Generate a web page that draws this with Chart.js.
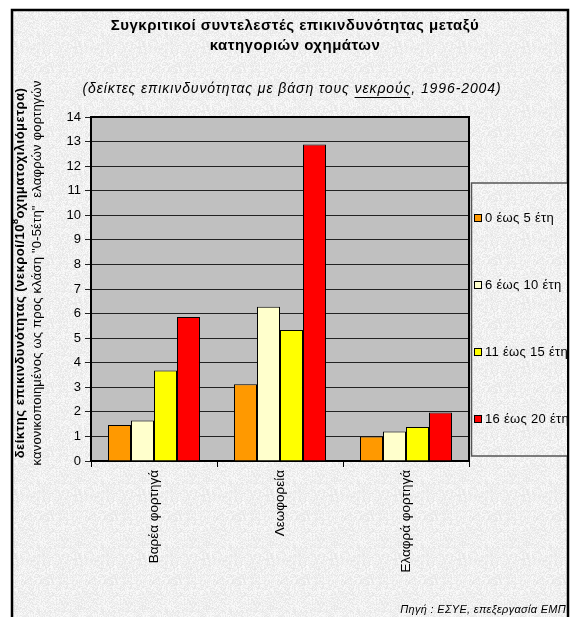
<!DOCTYPE html>
<html>
<head>
<meta charset="utf-8">
<script src="https://cdn.jsdelivr.net/npm/chart.js@4.4.0/dist/chart.umd.min.js"></script>
<style>
  html, body { margin: 0; padding: 0; background: #fff; }
  #chart { display: block; }
</style>
</head>
<body>
<canvas id="chart" width="572" height="617"></canvas>
<script>
const categories = ['Βαρέα φορτηγά', 'Λεωφορεία', 'Ελαφρά φορτηγά'];
const seriesNames = ['0 έως 5 έτη', '6 έως 10 έτη', '11 έως 15 έτη', '16 έως 20 έτη'];
const age0to5 = [1.47, 3.12, 1.0];
const age6to10 = [1.65, 6.28, 1.2];
const age11to15 = [3.68, 5.33, 1.38];
const age16to20 = [5.86, 12.88, 1.97];
const seriesColors = ['#FF9900', '#FFFFCC', '#FFFF00', '#FF0000'];

const titleLines = ['Συγκριτικοί συντελεστές επικινδυνότητας μεταξύ', 'κατηγοριών οχημάτων'];
const subtitleParts = ['(δείκτες επικινδυνότητας με βάση τους ', 'νεκρούς', ', 1996-2004)'];
const yTitleBold = ['δείκτης επικινδυνότητας (νεκροί/10', '8', 'οχηματοχιλιόμετρα)'];
const yTitleNormal = 'κανονικοποιημένος ως προς κλάση "0-5έτη"  ελαφρών φορτηγών';
const sourceText = 'Πηγή : ΕΣΥΕ, επεξεργασία ΕΜΠ';

const FONT = 'Arial, "Liberation Sans", sans-serif';

// light granite-like paper texture (deterministic)
function makeTexture() {
    const c = document.createElement('canvas');
    c.width = 64; c.height = 64;
    const g = c.getContext('2d');
    const img = g.createImageData(64, 64);
    let seed = 12345;
    for (let i = 0; i < 64 * 64; i++) {
        seed = (seed * 1103515245 + 12345) & 0x7fffffff;
        const v = 229 + (seed % 23);
        img.data[i * 4] = v; img.data[i * 4 + 1] = v; img.data[i * 4 + 2] = v; img.data[i * 4 + 3] = 255;
    }
    g.putImageData(img, 0, 0);
    return c;
}
const texture = makeTexture();

function spaced(ctx, px) { ctx.letterSpacing = px + 'px'; }

const backdrop = {
    id: 'backdrop',
    beforeDraw(chart) {
        const ctx = chart.ctx;
        const a = chart.chartArea;
        ctx.save();
        ctx.fillStyle = '#ffffff';
        ctx.fillRect(0, 0, chart.width, chart.height);
        ctx.fillStyle = ctx.createPattern(texture, 'repeat');
        ctx.fillRect(11, 9, 557, chart.height - 9);
        ctx.strokeStyle = '#000';
        ctx.lineWidth = 2.5;
        ctx.beginPath();
        ctx.moveTo(12, chart.height + 2);
        ctx.lineTo(12, 10);
        ctx.lineTo(568, 10);
        ctx.lineTo(568, chart.height + 2);
        ctx.stroke();
        ctx.fillStyle = '#c0c0c0';
        ctx.fillRect(a.left, a.top, a.right - a.left, a.bottom - a.top);
        ctx.restore();
    },
    afterDraw(chart) {
        const ctx = chart.ctx;
        const a = chart.chartArea;
        ctx.save();
        // plot border
        ctx.strokeStyle = '#000';
        ctx.lineWidth = 2;
        ctx.beginPath();
        ctx.moveTo(a.left, a.top);
        ctx.lineTo(a.right, a.top);
        ctx.lineTo(a.right, a.bottom);
        ctx.stroke();

        // title
        ctx.fillStyle = '#000';
        ctx.textAlign = 'center';
        ctx.textBaseline = 'middle';
        ctx.font = 'bold 15px ' + FONT;
        spaced(ctx, 0.5);
        ctx.fillText(titleLines[0], 295, 26);
        ctx.fillText(titleLines[1], 295, 46);

        // subtitle with underlined word
        ctx.font = 'italic 14px ' + FONT;
        spaced(ctx, 0.9);
        ctx.textAlign = 'left';
        const w = subtitleParts.map(p => ctx.measureText(p).width);
        let x = 292 - (w[0] + w[1] + w[2]) / 2;
        const sy = 89;
        ctx.fillText(subtitleParts[0], x, sy);
        ctx.fillText(subtitleParts[1], x + w[0], sy);
        ctx.fillRect(x + w[0], sy + 8, w[1] - 1, 1);
        ctx.fillText(subtitleParts[2], x + w[0] + w[1], sy);

        // y axis titles
        ctx.save();
        ctx.translate(20, 273);
        ctx.rotate(-Math.PI / 2);
        spaced(ctx, 0.5);
        ctx.font = 'bold 13px ' + FONT;
        const b0 = ctx.measureText(yTitleBold[0]).width;
        const b2 = ctx.measureText(yTitleBold[2]).width;
        ctx.font = 'bold 9px ' + FONT;
        const b1 = ctx.measureText(yTitleBold[1]).width;
        let tx = -(b0 + b1 + b2) / 2;
        ctx.font = 'bold 13px ' + FONT;
        ctx.fillText(yTitleBold[0], tx, 0);
        ctx.font = 'bold 9px ' + FONT;
        ctx.fillText(yTitleBold[1], tx + b0, -4);
        ctx.font = 'bold 13px ' + FONT;
        ctx.fillText(yTitleBold[2], tx + b0 + b1, 0);
        ctx.font = '13px ' + FONT;
        spaced(ctx, 0.2);
        ctx.textAlign = 'center';
        ctx.fillText(yTitleNormal, 0, 17);
        ctx.restore();

        // legend box
        ctx.save();
        ctx.beginPath();
        ctx.rect(0, 0, 567, chart.height);
        ctx.clip();
        ctx.fillStyle = ctx.createPattern(texture, 'repeat');
        ctx.fillRect(471, 183, 100, 273);
        ctx.strokeStyle = '#555';
        ctx.lineWidth = 1.5;
        ctx.strokeRect(471.5, 183, 100, 273);
        ctx.font = '13px ' + FONT;
        spaced(ctx, 0.3);
        ctx.textAlign = 'left';
        ctx.textBaseline = 'middle';
        chart.data.datasets.forEach((ds, i) => {
            const ly = 218 + i * 67;
            ctx.fillStyle = ds.backgroundColor;
            ctx.fillRect(474.5, ly - 3.5, 7, 7);
            ctx.strokeStyle = '#000';
            ctx.lineWidth = 1;
            ctx.strokeRect(474.5, ly - 3.5, 7, 7);
            ctx.fillStyle = '#000';
            ctx.fillText(ds.label, 485, ly);
        });
        ctx.restore();

        // source
        ctx.font = 'italic 11px ' + FONT;
        spaced(ctx, 0.3);
        ctx.textAlign = 'right';
        ctx.textBaseline = 'middle';
        ctx.fillStyle = '#000';
        ctx.fillText(sourceText, 566, 610);
        ctx.restore();
    }
};

const seriesValues = [age0to5, age6to10, age11to15, age16to20];

new Chart(document.getElementById('chart'), {
    type: 'bar',
    data: {
        labels: categories,
        datasets: seriesNames.map((name, i) => ({
            label: name,
            data: seriesValues[i],
            backgroundColor: seriesColors[i],
            borderColor: '#000',
            borderWidth: 1,
            barPercentage: 1.0,
            categoryPercentage: 0.73
        }))
    },
    options: {
        responsive: false,
        animation: false,
        devicePixelRatio: 1,
        layout: { padding: { left: 0, top: 117, right: 103, bottom: 0 } },
        plugins: {
            legend: { display: false },
            title: { display: false },
            tooltip: { enabled: false }
        },
        scales: {
            x: {
                afterFit: s => { s.height = 156; },
                ticks: {
                    maxRotation: 90, minRotation: 90,
                    color: '#000', padding: 3,
                    font: { family: FONT, size: 13.5 }
                },
                grid: { offset: true, drawOnChartArea: false, color: '#000', tickLength: 6 },
                border: { color: '#000', width: 2 }
            },
            y: {
                min: 0, max: 14,
                afterFit: s => { s.width = 91; },
                ticks: {
                    stepSize: 1, color: '#000', padding: 4,
                    font: { family: FONT, size: 13 }
                },
                grid: { color: '#222', lineWidth: 1, tickLength: 6 },
                border: { color: '#000', width: 2 }
            }
        }
    },
    plugins: [backdrop]
});
</script>
</body>
</html>
